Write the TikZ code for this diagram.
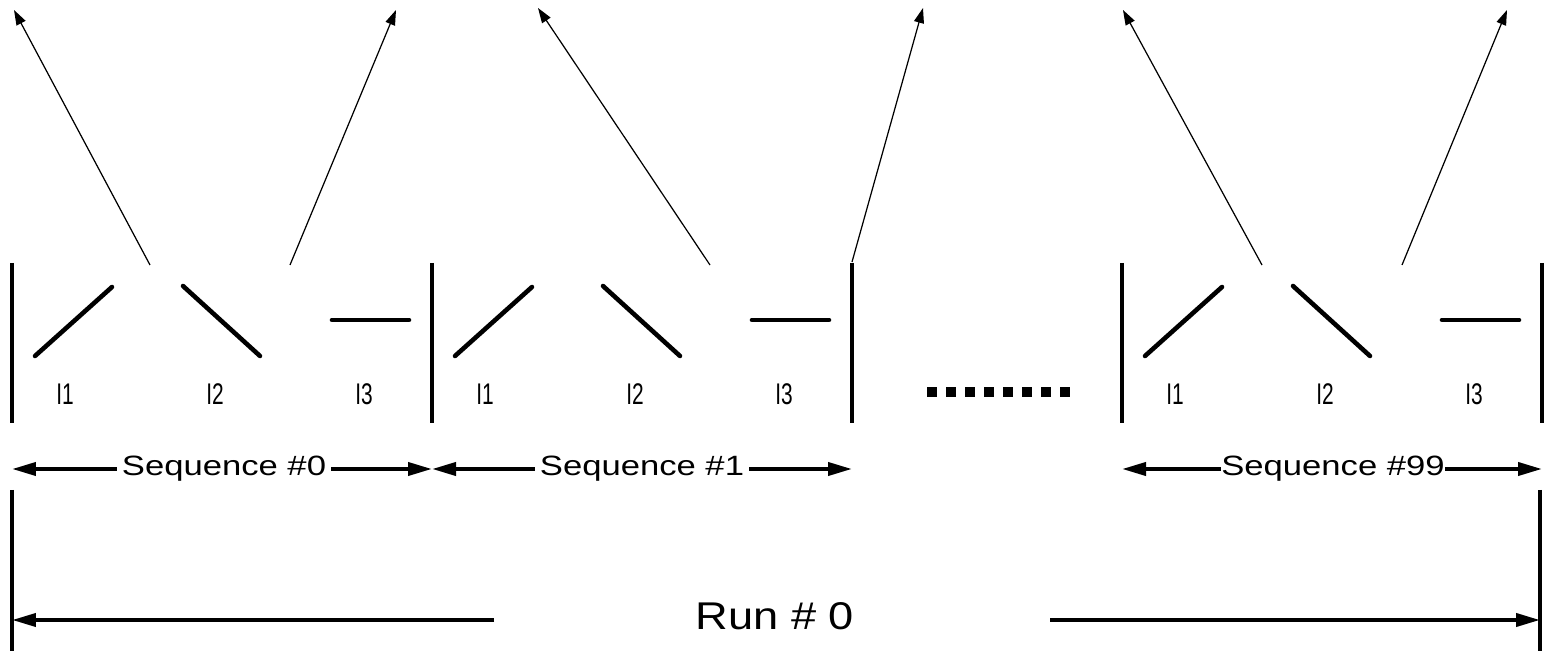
\documentclass[tikz,border=0pt]{standalone}
\usepackage{fontspec}
\setmainfont{Liberation Sans}
\usetikzlibrary{arrows.meta}

\begin{document}
\begin{tikzpicture}[x=0.02cm,y=-0.02cm,
  bar/.style={line width=2.1pt},
  slat/.style={line width=2.6pt,line cap=round},
  ray/.style={line width=0.7pt,-{Triangle[length=0.3cm,width=0.2cm]}},
  span/.style={line width=2.2pt,-{Triangle[length=0.48cm,width=0.26cm]}},
  seqlabel/.style={inner ysep=0pt,inner xsep=0.1cm,font=\fontsize{15.9}{18}\selectfont},
  itemlabel/.style={inner sep=0pt,font=\fontsize{17}{18}\selectfont},
  runlabel/.style={inner sep=0pt,font=\fontsize{22}{26}\selectfont},
  dot/.style={fill=black}
]
\useasboundingbox (0,0) rectangle (1552,651);

% sequence boundaries
\foreach \x in {12,432,852,1122,1542}
  \draw[bar] (\x,263) -- (\x,423);

% three items inside each sequence block
\foreach \x/\n in {12/a,432/b,1122/c}{
  \draw[slat] (\x+23,356) -- (\x+100,287);
  \draw[slat] (\x+171,286) -- (\x+248,356);
  \draw[slat] (\x+320,320) -- (\x+397,320);
  \node[itemlabel] (\n-i1) at (\x+53,394) {\scalebox{0.7}[1]{I1}};
  \node[itemlabel] (\n-i2) at (\x+203,394) {\scalebox{0.7}[1]{I2}};
  \node[itemlabel] (\n-i3) at (\x+352,394) {\scalebox{0.7}[1]{I3}};
}

% outgoing rays
\coordinate (a-l0) at (150,265);  \coordinate (a-l1) at (14,10);
\coordinate (a-r0) at (290,265);  \coordinate (a-r1) at (396,10);
\coordinate (b-l0) at (710,265);  \coordinate (b-l1) at (538,8);
\coordinate (b-r0) at (852,262);  \coordinate (b-r1) at (923,8);
\coordinate (c-l0) at (1262,265); \coordinate (c-l1) at (1123,10);
\coordinate (c-r0) at (1402,265); \coordinate (c-r1) at (1507,10);
\foreach \n in {a,b,c}{
  \draw[ray] (\n-l0) -- (\n-l1);
  \draw[ray] (\n-r0) -- (\n-r1);
}

% ellipsis between blocks
\foreach \i in {0,...,7}
  \fill[dot] (927+19*\i,387) rectangle ++(10,10);

% sequence spans
\node[seqlabel] (s0) at (224,469) {\scalebox{1.24}[1]{Sequence \#0}};
\node[seqlabel] (s1) at (642,469) {\scalebox{1.24}[1]{Sequence \#1}};
\node[seqlabel,inner xsep=0pt] (s99) at (1333,469) {\scalebox{1.24}[1]{Sequence \#99}};
\coordinate (s0-l) at (12,469);   \coordinate (s0-r) at (432,469);
\coordinate (s1-l) at (432,469);  \coordinate (s1-r) at (852,469);
\coordinate (s99-l) at (1122,469); \coordinate (s99-r) at (1542,469);
\foreach \n in {s0,s1,s99}{
  \draw[span] (\n.west) -- (\n-l);
  \draw[span] (\n.east) -- (\n-r);
}

% run span
\draw[bar] (12,490) -- (12,651);
\draw[bar] (1540,490) -- (1540,651);
\node[runlabel] (run) at (775,616) {\scalebox{1.17}[1]{Run \# 0}};
\coordinate (run-a) at (494,620); \coordinate (run-l) at (12,620);
\coordinate (run-b) at (1050,620); \coordinate (run-r) at (1540,620);
\draw[span] (run-a) -- (run-l);
\draw[span] (run-b) -- (run-r);
\end{tikzpicture}
\end{document}
